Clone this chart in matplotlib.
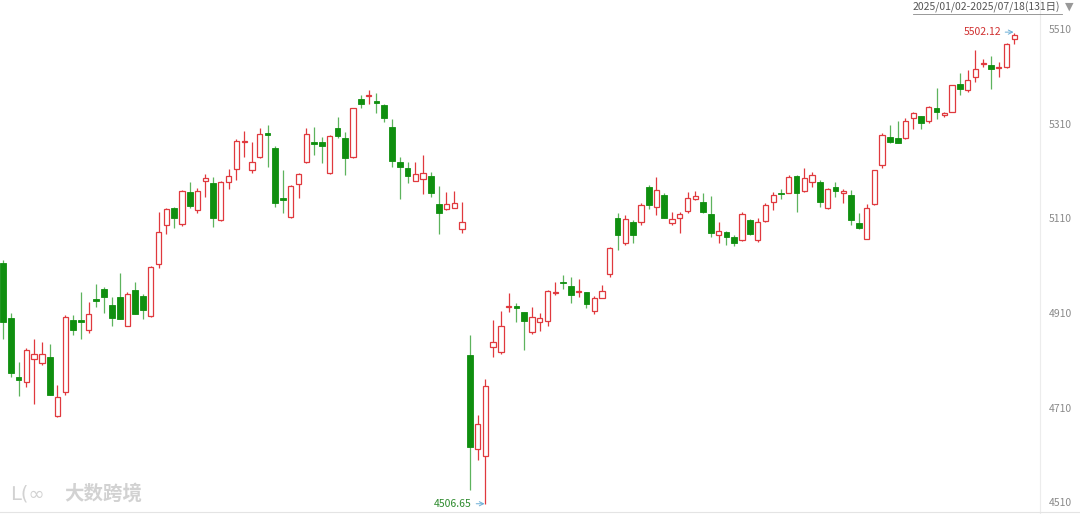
import matplotlib
matplotlib.use("Agg")
import matplotlib.pyplot as plt
from matplotlib.lines import Line2D

plt.rcParams['font.family'] = ['Noto Sans CJK SC', 'DejaVu Sans']

# daily OHLC, 2025/01/02 - 2025/07/18 (131 days)
opens = [5015, 4899, 4774, 4764, 4812, 4804, 4817, 4692, 4743, 4895,
         4895, 4874, 4939, 4960, 4927, 4943, 4882, 4958, 4946, 4903,
         5013, 5096, 5132, 5098, 5165, 5127, 5189, 5184, 5106, 5187,
         5214, 5271, 5212, 5239, 5290, 5258, 5153, 5112, 5182, 5229,
         5271, 5271, 5206, 5301, 5280, 5239, 5362, 5368, 5358, 5349,
         5303, 5229, 5216, 5189, 5193, 5199, 5140, 5129, 5132, 5087,
         4821, 4622, 4607, 4838, 4827, 4922, 4924, 4912, 4870, 4891,
         4893, 4952, 4975, 4967, 4954, 4954, 4914, 4941, 4992, 5110,
         5058, 5102, 5102, 5176, 5134, 5159, 5100, 5110, 5125, 5151,
         5144, 5119, 5075, 5081, 5070, 5064, 5106, 5064, 5104, 5144,
         5163, 5163, 5199, 5168, 5187, 5187, 5132, 5176, 5163, 5159,
         5100, 5066, 5140, 5222, 5282, 5280, 5280, 5322, 5326, 5316,
         5343, 5328, 5335, 5394, 5381, 5409, 5436, 5434, 5428, 5430,
         5488]
highs = [5022, 4910, 4806, 4836, 4855, 4848, 4844, 4757, 4905, 4905,
         4954, 4933, 4971, 4965, 4943, 4994, 4954, 4975, 4950, 5009,
         5123, 5132, 5134, 5170, 5187, 5174, 5203, 5197, 5189, 5214,
         5277, 5294, 5271, 5301, 5307, 5263, 5212, 5180, 5206, 5301,
         5303, 5282, 5286, 5324, 5292, 5343, 5370, 5381, 5375, 5351,
         5320, 5239, 5229, 5229, 5244, 5208, 5178, 5165, 5168, 5144,
         4863, 4694, 4770, 4895, 4914, 4952, 4931, 4912, 4922, 4910,
         4958, 4975, 4990, 4986, 4982, 4954, 4946, 4969, 5049, 5121,
         5117, 5106, 5142, 5180, 5197, 5163, 5123, 5123, 5165, 5168,
         5163, 5157, 5102, 5083, 5075, 5123, 5108, 5110, 5142, 5165,
         5172, 5201, 5201, 5216, 5208, 5191, 5174, 5187, 5172, 5170,
         5121, 5140, 5212, 5290, 5307, 5316, 5322, 5335, 5326, 5347,
         5385, 5335, 5392, 5417, 5423, 5466, 5447, 5453, 5440, 5480,
         5502.12]
lows = [4855, 4774, 4734, 4753, 4717, 4800, 4736, 4690, 4736, 4863,
        4855, 4867, 4922, 4910, 4882, 4897, 4882, 4908, 4897, 4901,
        5005, 5077, 5089, 5094, 5132, 5121, 5155, 5091, 5104, 5172,
        5191, 5239, 5206, 5237, 5218, 5134, 5121, 5110, 5153, 5227,
        5244, 5227, 5203, 5280, 5201, 5237, 5343, 5351, 5332, 5313,
        5218, 5151, 5184, 5189, 5161, 5155, 5077, 5127, 5132, 5079,
        4535, 4599, 4506.65, 4817, 4823, 4912, 4891, 4831, 4865, 4872,
        4882, 4948, 4960, 4931, 4943, 4920, 4908, 4941, 4986, 5043,
        5053, 5058, 5096, 5129, 5117, 5110, 5096, 5079, 5121, 5149,
        5121, 5070, 5058, 5053, 5051, 5062, 5075, 5060, 5102, 5127,
        5151, 5163, 5123, 5165, 5176, 5134, 5129, 5155, 5142, 5096,
        5087, 5066, 5138, 5216, 5269, 5269, 5277, 5299, 5299, 5311,
        5320, 5324, 5335, 5370, 5377, 5398, 5430, 5383, 5409, 5428,
        5478]
closes = [4891, 4783, 4768, 4831, 4823, 4823, 4736, 4732, 4901, 4874,
          4891, 4908, 4935, 4943, 4899, 4897, 4950, 4908, 4916, 5007,
          5081, 5129, 5110, 5168, 5136, 5168, 5195, 5110, 5187, 5199,
          5273, 5273, 5229, 5288, 5286, 5142, 5149, 5178, 5203, 5288,
          5267, 5263, 5284, 5284, 5237, 5343, 5351, 5370, 5354, 5322,
          5231, 5218, 5199, 5203, 5206, 5163, 5121, 5140, 5142, 5102,
          4626, 4675, 4755, 4848, 4882, 4924, 4920, 4893, 4901, 4899,
          4956, 4954, 4973, 4948, 4956, 4929, 4941, 4956, 5047, 5074,
          5108, 5074, 5138, 5138, 5170, 5110, 5108, 5119, 5153, 5157,
          5123, 5079, 5083, 5070, 5058, 5119, 5077, 5102, 5138, 5159,
          5161, 5197, 5163, 5195, 5201, 5144, 5172, 5168, 5168, 5106,
          5089, 5132, 5212, 5286, 5271, 5269, 5316, 5332, 5311, 5345,
          5334, 5332, 5392, 5383, 5402, 5425, 5438, 5425, 5430, 5478,
          5497]

y_ticks = [4510, 4710, 4910, 5110, 5310, 5510]
date_range = "2025/01/02-2025/07/18(131日)"

red = "#e0393e"
green = "#0f8f0f"
green_wick = "#5db35d"

fig = plt.figure(figsize=(10.8, 5.14), dpi=100)
ax = fig.add_axes([0, 0, 1040 / 1080, 1])

n = len(opens)
for i in range(n):
    o, h, l, c = opens[i], highs[i], lows[i], closes[i]
    up = c >= o
    ax.vlines(i, l, h, color=red if up else green_wick, linewidth=0.9, zorder=1)
    bottom = min(o, c)
    height = max(abs(c - o), 1.2)
    if up:
        ax.bar(i, height, bottom=bottom, width=0.68, facecolor="white",
               edgecolor=red, linewidth=0.9, zorder=2)
    else:
        ax.bar(i, height, bottom=bottom, width=0.74, facecolor=green,
               edgecolor=green, linewidth=0.6, zorder=2)

ax.set_xlim(-0.386, 133.3)
ax.set_ylim(4485, 5571)

ax.yaxis.tick_right()
ax.set_yticks(y_ticks)
ax.set_yticklabels([str(v) for v in y_ticks])
ax.tick_params(axis="y", length=0, pad=6, labelsize=7.5, labelcolor="#8a8a8a")
ax.set_xticks([])
for side in ["top", "left", "bottom"]:
    ax.spines[side].set_visible(False)
ax.spines["right"].set_color("#ececec")
ax.spines["right"].set_linewidth(0.8)

# max / min markers
imax = highs.index(max(highs))
imin = lows.index(min(lows))
ax.annotate(f"{max(highs):.2f}", xy=(imax - 0.1, max(highs) + 1),
            xytext=(-9, 0), textcoords="offset points", ha="right", va="center",
            fontsize=7.5, color="#d03030",
            arrowprops=dict(arrowstyle="->", color="#6aaed6", lw=0.7,
                            shrinkA=1, shrinkB=0))
ax.annotate(f"{min(lows):.2f}", xy=(imin - 0.1, min(lows)),
            xytext=(-9, 0), textcoords="offset points", ha="right", va="center",
            fontsize=7.5, color="#2e8b2e",
            arrowprops=dict(arrowstyle="->", color="#6aaed6", lw=0.7,
                            shrinkA=1, shrinkB=0))

# header
fig.text(1060 / 1080, 1 - 7 / 514, date_range, ha="right", va="center",
         fontsize=7.5, color="#555555")
fig.add_artist(Line2D([913 / 1080, 1062 / 1080], [1 - 14 / 514, 1 - 14 / 514],
                      color="#888888", linewidth=0.6))
fig.text(1069 / 1080, 1 - 7 / 514, "▼", ha="center", va="center",
         fontsize=8, color="#999999", family=["DejaVu Sans"])

# bottom border
fig.add_artist(Line2D([0, 1], [2 / 514, 2 / 514], color="#e4e4e4", linewidth=0.8))

# watermark
fig.text(10 / 1080, 1 - 494 / 514, "ᒪ(∞", ha="left", va="center",
         fontsize=14, color="#d2d2d2", family=["DejaVu Sans"])
fig.text(64 / 1080, 1 - 494 / 514, "大数跨境", ha="left", va="center",
         fontsize=14, color="#d2d2d2", weight="bold")

fig.savefig("out.png", dpi=100)
